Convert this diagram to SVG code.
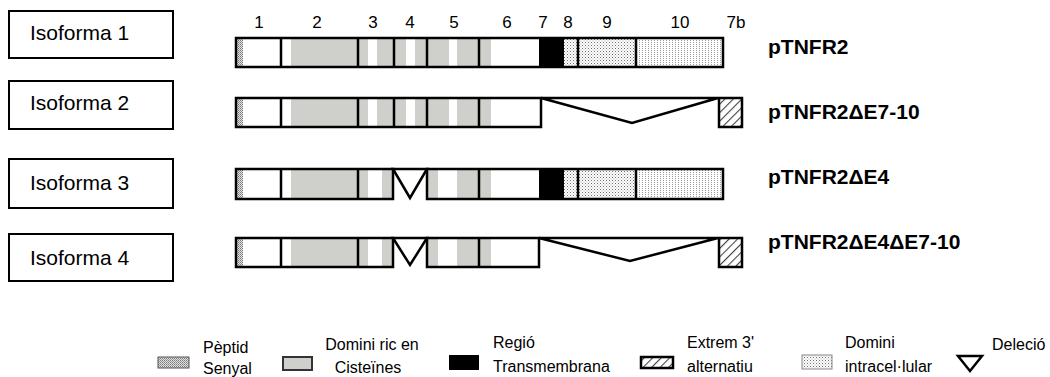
<svg xmlns="http://www.w3.org/2000/svg" width="1050" height="377" viewBox="0 0 1050 377">
<defs>
<pattern id="pSig" width="2" height="2" patternUnits="userSpaceOnUse"><rect width="2" height="2" fill="#e0e0e0"/><rect width="1" height="1" fill="#7a7a7a"/><rect x="1" y="1" width="1" height="1" fill="#9a9a9a"/></pattern>
<pattern id="pDot" width="3" height="3" patternUnits="userSpaceOnUse"><rect width="3" height="3" fill="#fff"/><rect width="1" height="1" fill="#6e6e6e"/><rect x="1.5" y="1.5" width="1" height="1" fill="#a8a8a8"/></pattern>
<pattern id="pDot2" width="3" height="2" patternUnits="userSpaceOnUse"><rect width="3" height="2" fill="#fff"/><rect width="1" height="1" fill="#9c9c9c"/></pattern>
<pattern id="pHatch" width="6" height="6" patternUnits="userSpaceOnUse" patternTransform="rotate(45)"><rect width="6" height="6" fill="#fff"/><line x1="0" y1="0" x2="0" y2="6" stroke="#444" stroke-width="2.2"/></pattern>
</defs>
<style>
.box{fill:#fff;stroke:#000;stroke-width:2}
.iso{font-family:"Liberation Sans",Arial,sans-serif;font-size:21px;fill:#000}
.lab{font-family:"Liberation Sans",Arial,sans-serif;font-size:21px;font-weight:bold;fill:#000}
.num{font-family:"Liberation Sans",Arial,sans-serif;font-size:17px;fill:#000;text-anchor:middle}
.leg{font-family:"Liberation Sans",Arial,sans-serif;font-size:16px;fill:#000}
.out{fill:none;stroke:#000;stroke-width:2.5}
.div{stroke:#000;stroke-width:2.5}
.cys{fill:#cfd0cb}
.blk{fill:#000}
.sig{fill:url(#pSig)}
.dot{fill:url(#pDot)}
.dot2{fill:url(#pDot2)}
.hat{fill:url(#pHatch);stroke:#000;stroke-width:2.5}
.del{fill:#fff;stroke:#000;stroke-width:2.5;stroke-linejoin:miter}
</style>

<g id="exon-numbers">
<text class="num" x="259" y="28">1</text>
<text class="num" x="317" y="28">2</text>
<text class="num" x="373" y="28">3</text>
<text class="num" x="410" y="28">4</text>
<text class="num" x="454" y="28">5</text>
<text class="num" x="507" y="28">6</text>
<text class="num" x="543" y="28">7</text>
<text class="num" x="568" y="28">8</text>
<text class="num" x="607" y="28">9</text>
<text class="num" x="680" y="28">10</text>
<text class="num" x="736" y="28">7b</text>
</g>

<g id="isoforma1">
<rect class="box" x="9" y="11" width="164" height="47"/>
<text class="iso" x="30" y="40">Isoforma 1</text>
</g>
<g id="isoforma2">
<rect class="box" x="9" y="81" width="164" height="48"/>
<text class="iso" x="30" y="110">Isoforma 2</text>
</g>
<g id="isoforma3">
<rect class="box" x="9" y="159" width="164" height="49"/>
<text class="iso" x="30" y="190">Isoforma 3</text>
</g>
<g id="isoforma4">
<rect class="box" x="9" y="234" width="164" height="47"/>
<text class="iso" x="30" y="265">Isoforma 4</text>
</g>

<g id="bar1">
<rect x="236" y="38" width="487" height="29" fill="#fff"/>
<rect class="sig" x="237" y="39" width="6" height="27"/>
<rect class="cys" x="291" y="39" width="67" height="27"/>
<rect class="cys" x="358" y="39" width="10" height="27"/>
<rect class="cys" x="377" y="39" width="17" height="27"/>
<rect class="cys" x="394" y="39" width="12" height="27"/>
<rect class="cys" x="415" y="39" width="12" height="27"/>
<rect class="cys" x="427" y="39" width="22" height="27"/>
<rect class="cys" x="457" y="39" width="22" height="27"/>
<rect class="cys" x="479" y="39" width="12" height="27"/>
<rect class="blk" x="539" y="38" width="25" height="29"/>
<rect class="dot" x="564" y="39" width="14" height="27"/>
<rect class="dot" x="578" y="39" width="58" height="27"/>
<rect class="dot2" x="636" y="39" width="87" height="27"/>
<path class="div" d="M281 38V67M358 38V67M394 38V67M427 38V67M479 38V67M578 38V67M636 38V67"/>
<rect class="out" x="236" y="38" width="487" height="29"/>
<text class="lab" x="768" y="54">pTNFR2</text>
</g>

<g id="bar2">
<rect x="236" y="98" width="305" height="29" fill="#fff"/>
<rect class="sig" x="237" y="99" width="6" height="27"/>
<rect class="cys" x="291" y="99" width="67" height="27"/>
<rect class="cys" x="358" y="99" width="10" height="27"/>
<rect class="cys" x="377" y="99" width="17" height="27"/>
<rect class="cys" x="394" y="99" width="12" height="27"/>
<rect class="cys" x="415" y="99" width="12" height="27"/>
<rect class="cys" x="427" y="99" width="22" height="27"/>
<rect class="cys" x="457" y="99" width="22" height="27"/>
<rect class="cys" x="479" y="99" width="12" height="27"/>
<path class="div" d="M281 98V127M358 98V127M394 98V127M427 98V127M479 98V127"/>
<rect class="out" x="236" y="98" width="305" height="29"/>
<polygon class="del" points="541,98 632,123 718,98"/>
<rect class="hat" x="719" y="98" width="23" height="29"/>
<text class="lab" x="768" y="119">pTNFR2ΔE7-10</text>
</g>

<g id="bar3">
<rect x="236" y="169" width="157" height="30" fill="#fff"/>
<rect class="sig" x="237" y="170" width="6" height="28"/>
<rect class="cys" x="291" y="170" width="67" height="28"/>
<rect class="cys" x="358" y="170" width="10" height="28"/>
<rect class="cys" x="382" y="170" width="11" height="28"/>
<path class="div" d="M281 169V199M358 169V199"/>
<rect class="out" x="236" y="169" width="157" height="30"/>
<polygon class="del" points="393,169 410,198 427,169"/>
<rect x="427" y="169" width="296" height="30" fill="#fff"/>
<rect class="cys" x="428" y="170" width="10" height="28"/>
<rect class="cys" x="457" y="170" width="22" height="28"/>
<rect class="cys" x="479" y="170" width="12" height="28"/>
<rect class="blk" x="539" y="169" width="25" height="30"/>
<rect class="dot" x="564" y="170" width="14" height="28"/>
<rect class="dot" x="578" y="170" width="58" height="28"/>
<rect class="dot2" x="636" y="170" width="87" height="28"/>
<path class="div" d="M479 169V199M578 169V199M636 169V199"/>
<rect class="out" x="427" y="169" width="296" height="30"/>
<text class="lab" x="768" y="184">pTNFR2ΔE4</text>
</g>

<g id="bar4">
<rect x="236" y="238" width="157" height="29" fill="#fff"/>
<rect class="sig" x="237" y="239" width="6" height="27"/>
<rect class="cys" x="291" y="239" width="67" height="27"/>
<rect class="cys" x="358" y="239" width="10" height="27"/>
<rect class="cys" x="382" y="239" width="11" height="27"/>
<path class="div" d="M281 238V267M358 238V267"/>
<rect class="out" x="236" y="238" width="157" height="29"/>
<polygon class="del" points="393,238 410,265 427,238"/>
<rect x="427" y="238" width="112" height="29" fill="#fff"/>
<rect class="cys" x="428" y="239" width="10" height="27"/>
<rect class="cys" x="457" y="239" width="22" height="27"/>
<rect class="cys" x="479" y="239" width="12" height="27"/>
<path class="div" d="M479 238V267"/>
<rect class="out" x="427" y="238" width="112" height="29"/>
<polygon class="del" points="539,238 630,261 718,238"/>
<rect class="hat" x="719" y="238" width="23" height="29"/>
<text class="lab" x="768" y="249">pTNFR2ΔE4ΔE7-10</text>
</g>

<g id="connectors"/>

<g id="legend">
<rect class="sig" x="158" y="357" width="31" height="11" stroke="#555" stroke-width="1"/>
<text class="leg" x="203" y="353">Pèptid</text>
<text class="leg" x="203" y="374">Senyal</text>
<rect class="cys" x="283" y="357" width="29" height="13" stroke="#333" stroke-width="2"/>
<text class="leg" x="372" y="350" text-anchor="middle">Domini ric en</text>
<text class="leg" x="368" y="373" text-anchor="middle">Cisteïnes</text>
<rect class="blk" x="449" y="355" width="30" height="15"/>
<text class="leg" x="493" y="348">Regió</text>
<text class="leg" x="493" y="372">Transmembrana</text>
<rect class="hat" x="641" y="357" width="32" height="11" stroke-width="2"/>
<text class="leg" x="687" y="348">Extrem 3'</text>
<text class="leg" x="687" y="372">alternatiu</text>
<rect class="dot" x="802" y="355" width="30" height="14" stroke="#888" stroke-width="1"/>
<text class="leg" x="845" y="348">Domini</text>
<text class="leg" x="845" y="372">intracel·lular</text>
<polygon class="del" points="958,356 982,356 970,371"/>
<text class="leg" x="992" y="350">Deleció</text>
</g>
</svg>
